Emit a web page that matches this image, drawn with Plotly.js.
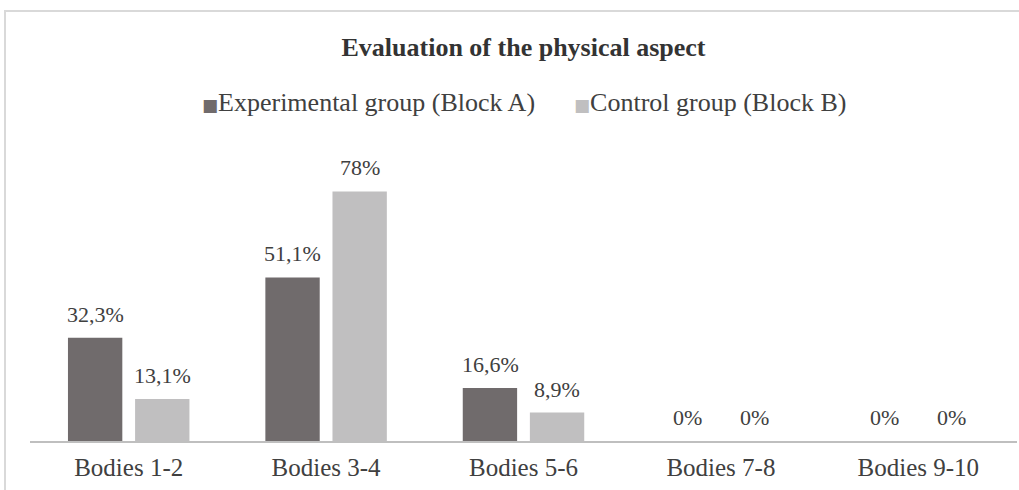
<!DOCTYPE html>
<html>
<head>
<meta charset="utf-8">
<script src="https://cdn.plot.ly/plotly-3.0.1.min.js"></script>
<style>
  html, body { margin: 0; padding: 0; background: #fff; overflow: hidden; }
  #frame { position: absolute; left: 4px; top: 10px; width: 1030px; height: 500px; border: 2px solid #d9d9d9; box-sizing: border-box; }
  #chart { position: absolute; left: 0; top: 0; width: 1019px; height: 490px; }
</style>
</head>
<body>
<div id="frame"></div>
<div id="chart"></div>
<script>
const categories = ["Bodies 1-2", "Bodies 3-4", "Bodies 5-6", "Bodies 7-8", "Bodies 9-10"];
const experimental = [32.3, 51.1, 16.6, 0, 0];
const control = [13.1, 78, 8.9, 0, 0];
const seriesNames = ["Experimental group (Block A)", "Control group (Block B)"];
const colors = ['#706b6c', '#c0bfc0'];

function fmt(v) {
  return (Number.isInteger(v) ? String(v) : v.toFixed(1).replace('.', ',')) + '%';
}

const font = "Liberation Serif, Times New Roman, serif";
const series = [experimental, control];

const traces = series.map((vals, i) => ({
  type: 'bar',
  x: categories,
  y: vals,
  name: seriesNames[i],
  marker: { color: colors[i] },
  hoverinfo: 'skip',
  showlegend: false
}));

// value labels placed through the axis scales, shifted to each bar of the group
const offsets = [-33.5, 33.5];
const annotations = [];
series.forEach((vals, i) => {
  vals.forEach((v, j) => {
    annotations.push({
      xref: 'x', yref: 'y', x: categories[j], y: v,
      xshift: offsets[i], yshift: 9,
      yanchor: 'bottom', xanchor: 'center',
      text: fmt(v), showarrow: false,
      font: { family: font, size: 22, color: '#404040' }
    });
  });
});

// legend drawn as text with coloured squares
annotations.push({
  xref: 'paper', yref: 'paper', x: 0.5, y: 1.177, xanchor: 'center', yanchor: 'middle',
  showarrow: false,
  text: seriesNames.map((n, i) => `<span style="color:${colors[i]};font-family:'DejaVu Sans';font-size:17px">■</span>${n}`).join('      '),
  font: { family: font, size: 26, color: '#404040' }
});

const layout = {
  width: 1019, height: 490,
  margin: { l: 30, r: 2, t: 153, b: 49 },
  paper_bgcolor: 'rgba(0,0,0,0)',
  plot_bgcolor: 'rgba(0,0,0,0)',
  font: { family: font, color: '#404040' },
  title: { text: '<b>Evaluation of the physical aspect</b>', font: { family: font, size: 26, color: '#333' }, x: 0.5, xref: 'paper', xanchor: 'center', y: 1 - 47/490, yanchor: 'middle' },
  barmode: 'group',
  bargap: 0.32,
  bargroupgap: 0.19,
  showlegend: false,
  annotations: annotations,
  xaxis: { showline: true, linecolor: '#bfbfbf', linewidth: 1.5, ticks: 'outside', ticklen: 3, tickcolor: 'rgba(0,0,0,0)', tickfont: { family: font, size: 25, color: '#404040' }, showgrid: false, zeroline: false },
  yaxis: { range: [0, 90], visible: false, showgrid: false, zeroline: false }
};

Plotly.newPlot('chart', traces, layout, { displayModeBar: false, staticPlot: true });
</script>
</body>
</html>
